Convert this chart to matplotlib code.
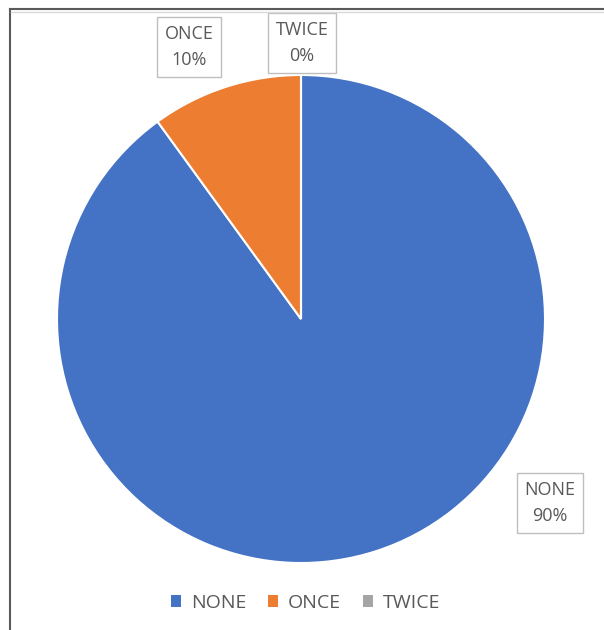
import numpy as np
import matplotlib
matplotlib.use('Agg')
import matplotlib.pyplot as plt
from matplotlib.patches import Patch
from matplotlib.lines import Line2D

# Данные диаграммы
categories = ['NONE', 'ONCE', 'TWICE']
shares = [90, 10, 0]
pct_labels = ['90%', '10%', '0%']
colors = ['#4472C4', '#ED7D31', '#A5A5A5']
# Положения подписей (в единицах радиуса)
label_pos = [(1.02, -0.754), (-0.459, 1.115), (0.004, 1.131)]

plt.rcParams['font.family'] = ['Open Sans', 'DejaVu Sans']
text_color = '#595959'

W, H = 604, 630
fig = plt.figure(figsize=(W / 100, H / 100), dpi=100)

# Ось пирога: центр (301, 319) px, радиус 244 px
cx, cy, R = 301, 319, 244
lim = 1.2
ax = fig.add_axes([(cx - lim * R) / W, (H - cy - lim * R) / H, 2 * lim * R / W, 2 * lim * R / H])

wedges, _ = ax.pie(shares, colors=colors, startangle=90, counterclock=False,
                   radius=1.0, wedgeprops=dict(edgecolor='white', linewidth=1.5))
ax.set_xlim(-lim, lim)
ax.set_ylim(-lim, lim)
ax.set_aspect('equal')
ax.axis('off')

for name, pct, (x, y) in zip(categories, pct_labels, label_pos):
    ax.text(x, y, f'{name}\n{pct}', ha='center', va='center', fontsize=13,
            color=text_color, linespacing=1.6,
            bbox=dict(boxstyle='square,pad=0.42', facecolor='white',
                      edgecolor='#BFBFBF', linewidth=1.0))

# Легенда
handles = [Patch(facecolor=c, edgecolor='none') for c in colors]
fig.legend(handles, categories, loc='center', bbox_to_anchor=(0.506, 1 - 603 / H),
           ncol=3, frameon=False, fontsize=14, labelcolor=text_color,
           handlelength=0.55, handleheight=0.55, handletextpad=0.5, columnspacing=1.1)

# Рамка (верх и левый край)
fig.add_artist(Line2D([9.5 / W, 1], [1 - 9 / H, 1 - 9 / H], color='#5A5A5A', linewidth=1.5))
fig.add_artist(Line2D([9.5 / W, 9.5 / W], [0, 1 - 9 / H], color='#5A5A5A', linewidth=1.5))
fig.add_artist(Line2D([11 / W, 1], [1 - 11.5 / H, 1 - 11.5 / H], color='#D9D9D9', linewidth=1.0))

fig.savefig('out.png', dpi=100, facecolor='white')
